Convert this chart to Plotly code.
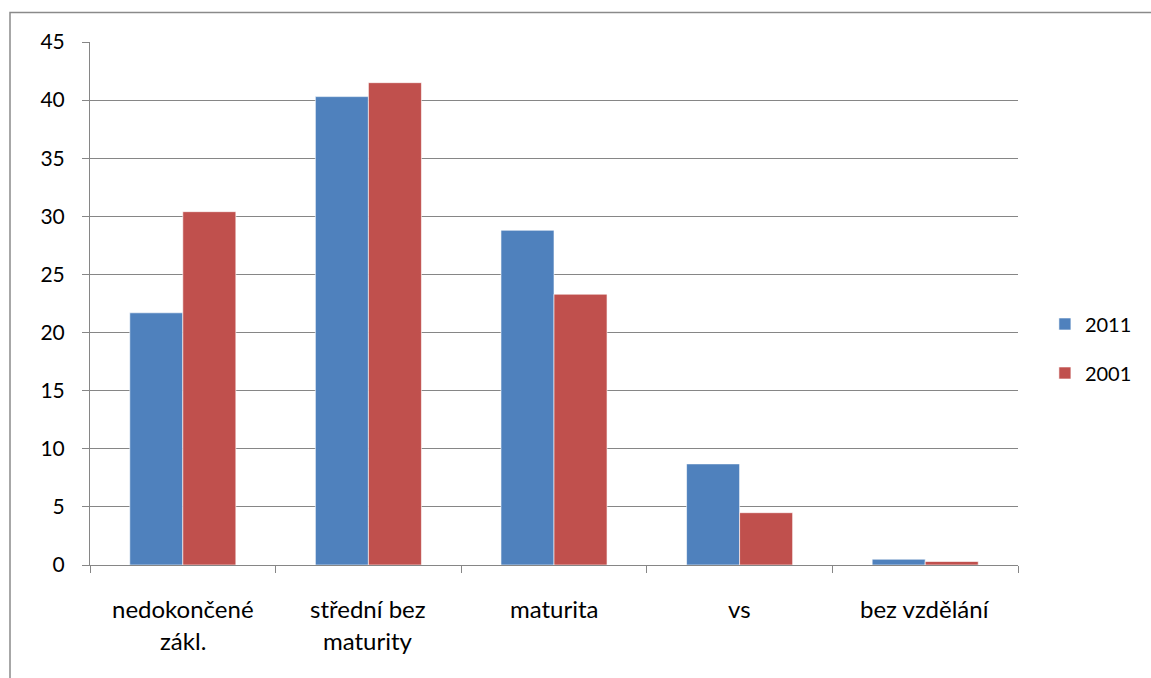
import plotly.graph_objects as go

# Education level shares (%) in two census years
categories = ["nedokončené zákl.", "střední bez maturity", "maturita", "vs", "bez vzdělání"]
tick_lines = [["nedokončené", "zákl."], ["střední bez", "maturity"], ["maturita"], ["vs"], ["bez vzdělání"]]
values_2011 = [21.7, 40.3, 28.8, 8.7, 0.5]
values_2001 = [30.4, 41.5, 23.3, 4.5, 0.3]
y_ticks = [0, 5, 10, 15, 20, 25, 30, 35, 40, 45]

FONT = "Lato, 'Open Sans', sans-serif"
GRID = "#868686"

fig = go.Figure()
fig.add_trace(go.Bar(
    name="2011", x=categories, y=values_2011,
    marker=dict(color="#4F81BD", line=dict(color="rgba(255,255,255,0.6)", width=1)),
    legendgroup="a",
))
fig.add_trace(go.Bar(
    name="2001", x=categories, y=values_2001,
    marker=dict(color="#C0504D", line=dict(color="rgba(255,255,255,0.6)", width=1)),
    legendgroup="b",
))

# two-line category labels under the axis
annotations = []
for cat, lines in zip(categories, tick_lines):
    for i, line in enumerate(lines):
        annotations.append(dict(
            x=cat, xref="x", y=0, yref="paper", yanchor="middle",
            yshift=-43 - 32 * i, text=line, showarrow=False,
            font=dict(family=FONT, size=24, color="#000000"),
        ))

fig.update_layout(
    width=1151, height=678,
    margin=dict(l=90, r=133, t=42, b=113),
    paper_bgcolor="white", plot_bgcolor="white",
    barmode="group", bargap=0.4286, bargroupgap=0,
    font=dict(family=FONT, size=20, color="#000000"),
    showlegend=True,
    legend=dict(
        x=1.029, xanchor="left", y=0.414, yanchor="middle",
        font=dict(family=FONT, size=20, color="#000000"),
        tracegroupgap=20, itemwidth=30,
        bgcolor="rgba(0,0,0,0)",
    ),
    annotations=annotations,
    shapes=[dict(
        type="rect", xref="paper", yref="paper",
        x0=(10 - 90) / 928, x1=(1165 - 90) / 928,
        y0=(565 - 700) / 523, y1=(565 - 12.5) / 523,
        line=dict(color="#8a8a8a", width=1.5), fillcolor="rgba(0,0,0,0)",
        layer="below",
    )],
)

fig.update_xaxes(
    type="category", showticklabels=False,
    showline=True, linecolor=GRID, linewidth=1,
    ticks="outside", tickson="boundaries", ticklen=7, tickcolor=GRID,
    showgrid=False, zeroline=False,
)
fig.update_yaxes(
    range=[0, 45], tickvals=y_ticks, ticktext=[str(v) for v in y_ticks],
    showline=True, linecolor=GRID, linewidth=1,
    ticks="outside", ticklen=7, tickcolor=GRID,
    showgrid=True, gridcolor=GRID, gridwidth=1,
    zeroline=False, ticklabelstandoff=13,
    tickfont=dict(family=FONT, size=21, color="#000000"),
)

fig.write_html("out.html")
